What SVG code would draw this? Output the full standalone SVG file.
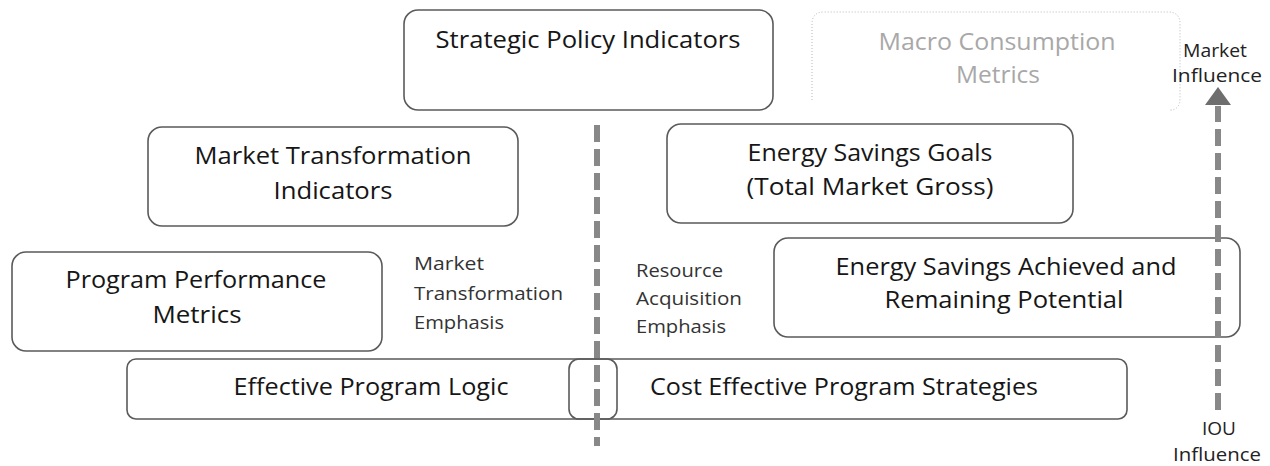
<svg xmlns="http://www.w3.org/2000/svg" width="1270" height="466" viewBox="0 0 1270 466">
<style>
.box{fill:none;stroke:#5a5a5a;stroke-width:1.6}
.t{font-family:"Open Sans","Liberation Sans",sans-serif;font-size:24px;fill:#161616;text-anchor:middle}
.s{font-family:"Open Sans","Liberation Sans",sans-serif;font-size:19px;fill:#333;text-anchor:start}
.m{font-family:"Open Sans","Liberation Sans",sans-serif;font-size:19px;fill:#222;text-anchor:middle}
.g{font-family:"Open Sans","Liberation Sans",sans-serif;font-size:24px;fill:#a8a8a8;text-anchor:middle}
.dash{stroke:#888;stroke-width:6;stroke-dasharray:17 7;fill:none}
</style>
<rect width="1270" height="466" fill="#fff"/>

<g id="strategic">
<rect class="box" x="404" y="10" width="369" height="100" rx="14"/>
<text class="t" x="588" y="48" textLength="305" lengthAdjust="spacingAndGlyphs">Strategic Policy Indicators</text>
</g>

<g id="macro">
<path d="M812,100 L812,24 Q812,12 824,12 L1168,12 Q1180,12 1180,24 L1180,98 Q1180,110 1170,110" fill="none" stroke="#b8b8b8" stroke-width="1" stroke-dasharray="1 2"/>
<text class="g" x="997" y="50" textLength="237" lengthAdjust="spacingAndGlyphs">Macro Consumption</text>
<text class="g" x="998" y="83" textLength="84" lengthAdjust="spacingAndGlyphs">Metrics</text>
</g>

<g id="mti">
<rect class="box" x="148" y="127" width="370" height="99" rx="14"/>
<text class="t" x="333" y="164" textLength="277" lengthAdjust="spacingAndGlyphs">Market Transformation</text>
<text class="t" x="333" y="199" textLength="119" lengthAdjust="spacingAndGlyphs">Indicators</text>
</g>

<g id="goals">
<rect class="box" x="667" y="124" width="406" height="99" rx="14"/>
<text class="t" x="870" y="161" textLength="245" lengthAdjust="spacingAndGlyphs">Energy Savings Goals</text>
<text class="t" x="870" y="195" textLength="247" lengthAdjust="spacingAndGlyphs">(Total Market Gross)</text>
</g>

<g id="ppm">
<rect class="box" x="12" y="252" width="370" height="99" rx="14"/>
<text class="t" x="196" y="288" textLength="261" lengthAdjust="spacingAndGlyphs">Program Performance</text>
<text class="t" x="197" y="323" textLength="89" lengthAdjust="spacingAndGlyphs">Metrics</text>
</g>

<g id="achieved">
<rect class="box" x="774" y="238" width="466" height="99" rx="14"/>
<text class="t" x="1006" y="275" textLength="341" lengthAdjust="spacingAndGlyphs">Energy Savings Achieved and</text>
<text class="t" x="1004" y="308" textLength="239" lengthAdjust="spacingAndGlyphs">Remaining Potential</text>
</g>

<g id="mte-label">
<text class="s" x="414" y="270" textLength="70" lengthAdjust="spacingAndGlyphs">Market</text>
<text class="s" x="414" y="300" textLength="149" lengthAdjust="spacingAndGlyphs">Transformation</text>
<text class="s" x="414" y="329" textLength="90" lengthAdjust="spacingAndGlyphs">Emphasis</text>
</g>

<g id="rae-label">
<text class="s" x="636" y="277" textLength="87" lengthAdjust="spacingAndGlyphs">Resource</text>
<text class="s" x="636" y="305" textLength="106" lengthAdjust="spacingAndGlyphs">Acquisition</text>
<text class="s" x="636" y="333" textLength="90" lengthAdjust="spacingAndGlyphs">Emphasis</text>
</g>

<g id="program-logic">
<rect class="box" x="127" y="359" width="1000" height="60" rx="9"/>
<text class="t" x="371" y="395" textLength="275" lengthAdjust="spacingAndGlyphs">Effective Program Logic</text>
<text class="t" x="844" y="395" textLength="388" lengthAdjust="spacingAndGlyphs">Cost Effective Program Strategies</text>
</g>

<g id="overlap">
<rect class="box" x="569" y="359" width="48" height="60" rx="10"/>
</g>

<g id="connectors">
<line class="dash" x1="597" y1="125" x2="597" y2="446"/>
<line class="dash" x1="1218" y1="410" x2="1218" y2="106"/>
<polygon points="1218,87 1205,105 1231,105" fill="#6e6e6e"/>
</g>

<g id="influence-labels">
<text class="m" x="1215" y="57" textLength="64" lengthAdjust="spacingAndGlyphs">Market</text>
<text class="m" x="1217" y="82" textLength="90" lengthAdjust="spacingAndGlyphs">Influence</text>
<text class="m" x="1219" y="435" textLength="34" lengthAdjust="spacingAndGlyphs">IOU</text>
<text class="m" x="1217" y="461" textLength="88" lengthAdjust="spacingAndGlyphs">Influence</text>
</g>
</svg>
